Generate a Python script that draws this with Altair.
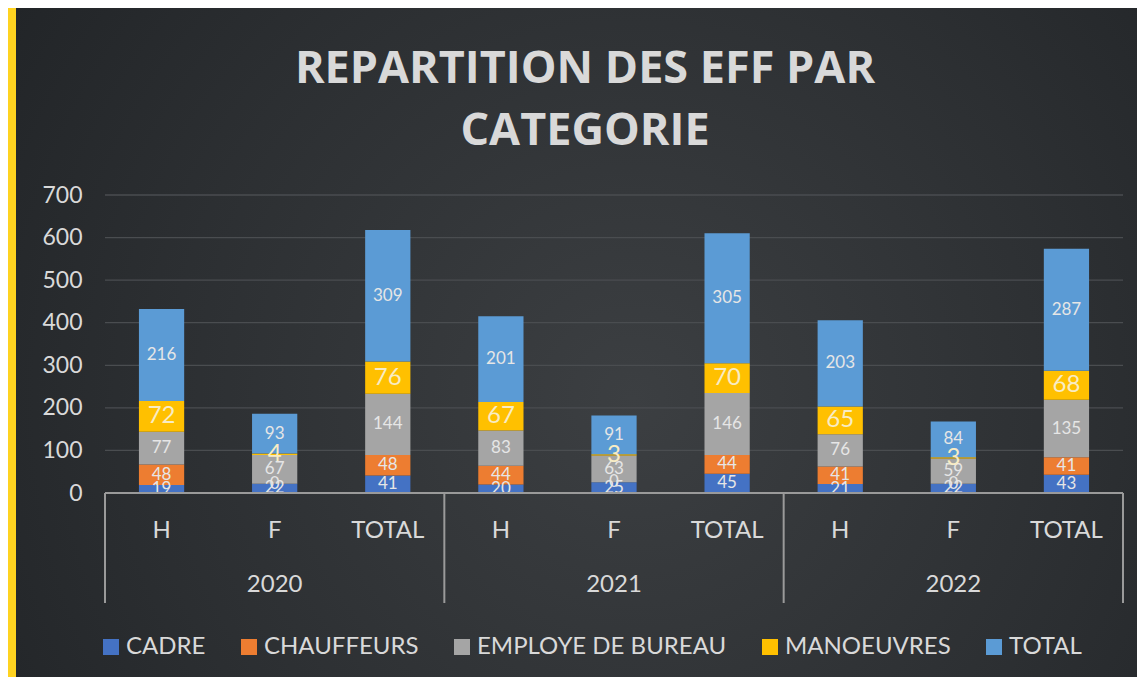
import altair as alt
import pandas as pd

years = ["2020", "2021", "2022"]
subs = ["H", "F", "TOTAL"]
series = ["CADRE", "CHAUFFEURS", "EMPLOYE DE BUREAU", "MANOEUVRES", "TOTAL"]
colors = ["#4472C4", "#ED7D31", "#A5A5A5", "#FFC000", "#5B9BD5"]
yticks = [0, 100, 200, 300, 400, 500, 600, 700]

cadre = [19, 22, 41, 20, 25, 45, 21, 22, 43]
chauffeurs = [48, 0, 48, 44, 0, 44, 41, 0, 41]
employe = [77, 67, 144, 83, 63, 146, 76, 59, 135]
manoeuvres = [72, 4, 76, 67, 3, 70, 65, 3, 68]
total = [216, 93, 309, 201, 91, 305, 203, 84, 287]

values = [cadre, chauffeurs, employe, manoeuvres, total]

rows = []
for i in range(9):
    y = years[i // 3]
    s = subs[i % 3]
    for k, name in enumerate(series):
        rows.append({"idx": i, "year": y, "sub": s, "serie": name, "order": k,
                     "value": values[k][i], "pos": i + 0.5,
                     "x0": i + 0.5 - 0.2, "x1": i + 0.5 + 0.2})
df = pd.DataFrame(rows)

cats = pd.DataFrame({"pos": [i + 0.5 for i in range(9)],
                     "sub": [subs[i % 3] for i in range(9)]})
yrs = pd.DataFrame({"pos": [1.5, 4.5, 7.5], "year": years})
seps = pd.DataFrame({"xs": [0, 3, 6, 9]})
grid = pd.DataFrame({"gy": yticks[1:]})

W, H = 1018, 298
PL, PT, PR, PB = 97, 187, 14, 184
FONT = "Lato"
TXT = "#d9d9d9"

xscale = alt.Scale(domain=[0, 9], nice=False, zero=False)
yscale = alt.Scale(domain=[0, 700], nice=False)

bg = alt.Chart(pd.DataFrame({"a": [0]})).mark_rect(
    color=alt.Gradient(
        gradient="radial",
        stops=[alt.GradientStop(color="#3c3f42", offset=0),
               alt.GradientStop(color="#2c2f32", offset=0.55),
               alt.GradientStop(color="#1e2124", offset=1)],
        x1=0.55, y1=0.55, r1=0, x2=0.55, y2=0.55, r2=0.75),
).encode(x=alt.value(-PL + 8), x2=alt.value(W + PR), y=alt.value(-PT), y2=alt.value(H + PB))

strip = alt.Chart(pd.DataFrame({"a": [0]})).mark_rect(color="#FFD320").encode(
    x=alt.value(-PL), x2=alt.value(-PL + 8), y=alt.value(-PT), y2=alt.value(H + PB))

gridlines = alt.Chart(grid).mark_rule(color="#4a4d50", strokeWidth=1.3).encode(
    x=alt.value(0), x2=alt.value(W), y=alt.Y("gy:Q", scale=yscale))

base = alt.Chart(df).transform_stack(
    stack="value", groupby=["idx"], as_=["y0", "y1"],
    sort=[alt.SortField("order", order="ascending")]
).transform_calculate(ymid="(datum.y0 + datum.y1) / 2")

bars = base.mark_bar().encode(
    x=alt.X("x0:Q", scale=xscale, axis=None),
    x2="x1:Q",
    y=alt.Y("y0:Q", scale=yscale,
            axis=alt.Axis(values=yticks, title=None, domain=False, grid=False, zindex=1,
                          ticks=False, labelPadding=23, labelFontSize=23, labelFont=FONT,
                          labelColor=TXT)),
    y2="y1:Q",
    color=alt.Color("serie:N", scale=alt.Scale(domain=series, range=colors),
                    sort=series,
                    legend=alt.Legend(title=None, orient="none", legendX=-6, legendY=440,
                                      direction="horizontal", columns=5,
                                      symbolType="square", symbolSize=256,
                                      symbolStrokeWidth=0, labelFont=FONT,
                                      labelFontSize=24, labelColor=TXT, labelLimit=400,
                                      labelOffset=3, columnPadding=31)),
)

labels = base.transform_filter("datum.serie != 'MANOEUVRES'").mark_text(
    font=FONT, fontSize=17, color="#e6e6e6", baseline="middle").encode(
    x=alt.X("pos:Q", scale=xscale), y=alt.Y("ymid:Q", scale=yscale), text="value:Q")

labels_m = base.transform_filter("datum.serie == 'MANOEUVRES'").mark_text(
    font=FONT, fontSize=24, color="#f8ecc4", baseline="middle").encode(
    x=alt.X("pos:Q", scale=xscale), y=alt.Y("ymid:Q", scale=yscale), text="value:Q")

baseline = alt.Chart(pd.DataFrame({"a": [0]})).mark_rule(color="#9a9a9a", strokeWidth=2).encode(
    x=alt.value(0), x2=alt.value(W), y=alt.value(H))

sep = alt.Chart(seps).mark_rule(color="#9a9a9a", strokeWidth=2).encode(
    x=alt.X("xs:Q", scale=xscale), y=alt.value(H), y2=alt.value(H + 110))

sublab = alt.Chart(cats).mark_text(font=FONT, fontSize=24, color=TXT, baseline="middle").encode(
    x=alt.X("pos:Q", scale=xscale), y=alt.value(H + 38), text="sub:N")

yearlab = alt.Chart(yrs).mark_text(font=FONT, fontSize=24, color=TXT, baseline="middle").encode(
    x=alt.X("pos:Q", scale=xscale), y=alt.value(H + 92), text="year:N")

chart = alt.layer(bg, strip, gridlines, bars, labels, labels_m, baseline, sep, sublab, yearlab).properties(
    width=W, height=H,
    padding={"left": PL, "top": PT, "right": PR, "bottom": PB},
    autosize=alt.AutoSizeParams(type="none"),
    background="#2a2d30",
    title=alt.TitleParams(text=["REPARTITION DES EFF PAR", "CATEGORIE"], font="Open Sans",
                          fontSize=45, fontWeight="bold", color=TXT, anchor="middle",
                          frame="group", dx=-29, offset=-146, lineHeight=62),
).configure_view(stroke=None)

chart.save("out.html", embed_options={"renderer": "svg", "actions": False})
